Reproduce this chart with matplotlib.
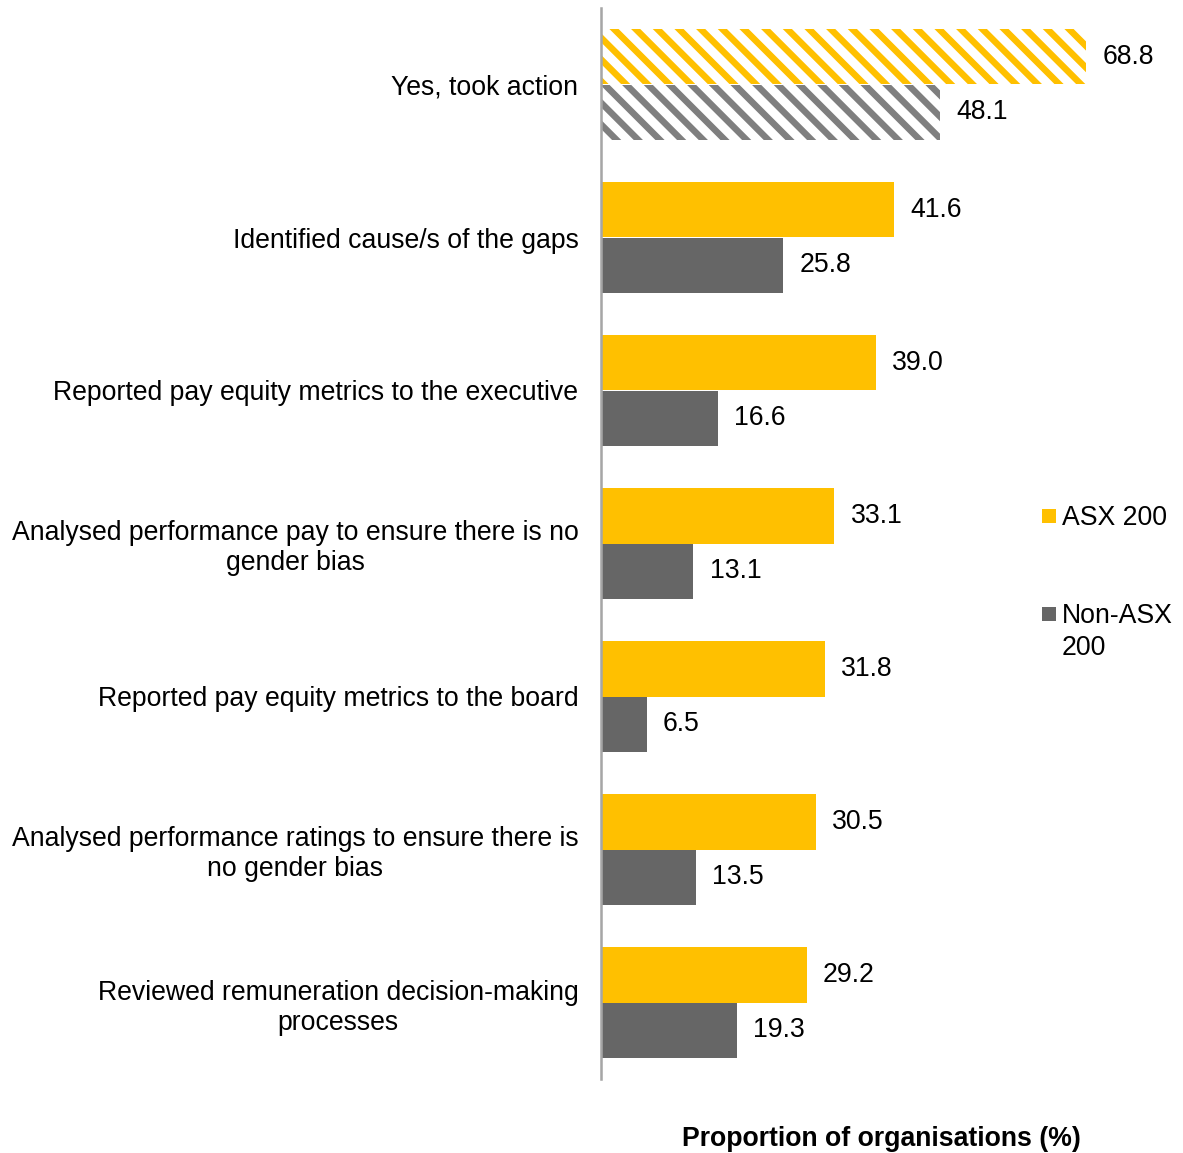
import matplotlib
matplotlib.use("Agg")
import matplotlib.pyplot as plt
from matplotlib.patches import Rectangle
import numpy as np

categories = [
    "Yes, took action",
    "Identified cause/s of the gaps",
    "Reported pay equity metrics to the executive",
    "Analysed performance pay to ensure there is no\ngender bias",
    "Reported pay equity metrics to the board",
    "Analysed performance ratings to ensure there is\nno gender bias",
    "Reviewed remuneration decision-making\nprocesses",
]
asx200 = [68.8, 41.6, 39.0, 33.1, 31.8, 30.5, 29.2]
non_asx200 = [48.1, 25.8, 16.6, 13.1, 6.5, 13.5, 19.3]
series_names = ["ASX 200", "Non-ASX\n200"]

YELLOW = "#FFC000"
GREY = "#666666"
GREY_HATCH = "#7F7F7F"

DPI = 130
plt.rcParams["font.family"] = ["Liberation Sans", "DejaVu Sans"]
plt.rcParams["hatch.linewidth"] = 3.6
FS = 14.75
LS = 1.2

fig = plt.figure(figsize=(1183 / DPI, 1153 / DPI), dpi=DPI)
ax = fig.add_axes([601 / 1183, 74 / 1153, 564 / 1183, 1071 / 1153])

y = np.arange(len(categories))
h = 0.366

for i in y:
    if i == 0:
        ax.barh(i - h / 2, asx200[i], height=h, facecolor="white",
                edgecolor=YELLOW, hatch="\\\\", linewidth=0)
        ax.barh(i + h / 2, non_asx200[i], height=h, facecolor="white",
                edgecolor=GREY_HATCH, hatch="\\\\", linewidth=0)
    else:
        ax.barh(i - h / 2, asx200[i], height=h, color=YELLOW)
        ax.barh(i + h / 2, non_asx200[i], height=h, color=GREY)
    ax.annotate(f"{asx200[i]:.1f}", (asx200[i], i - h / 2), xytext=(9, 0),
                textcoords="offset points", va="center", ha="left", fontsize=FS)
    ax.annotate(f"{non_asx200[i]:.1f}", (non_asx200[i], i + h / 2), xytext=(9, 0),
                textcoords="offset points", va="center", ha="left", fontsize=FS)

ax.set_xlim(0, 80)
ax.set_ylim(6.5, -0.5)
ax.set_yticks(y)
ax.set_yticklabels(categories, fontsize=FS, multialignment="center", linespacing=LS)
ax.tick_params(axis="y", length=0, pad=12.5)
ax.set_xticks([])
for s in ["top", "right", "bottom"]:
    ax.spines[s].set_visible(False)
ax.spines["left"].set_color("#A6A6A6")
ax.spines["left"].set_linewidth(1.4)

fig.text(881 / 1183, 1 - 1139 / 1153, "Proportion of organisations (%)",
         ha="center", va="center", fontsize=FS, fontweight="bold")

# legend drawn by hand so the marker sits on the first text line
for col, name, yc in [(YELLOW, series_names[0], 516), (GREY, series_names[1], 614)]:
    fig.patches.append(Rectangle((1042 / 1183, 1 - (yc + 7) / 1153), 14 / 1183, 14 / 1153,
                                 transform=fig.transFigure, facecolor=col, edgecolor="none"))
    fig.text(1062 / 1183, 1 - (yc - 11) / 1153, name, ha="left", va="top",
             fontsize=FS, linespacing=1.32)

fig.savefig("out.png", dpi=DPI)
